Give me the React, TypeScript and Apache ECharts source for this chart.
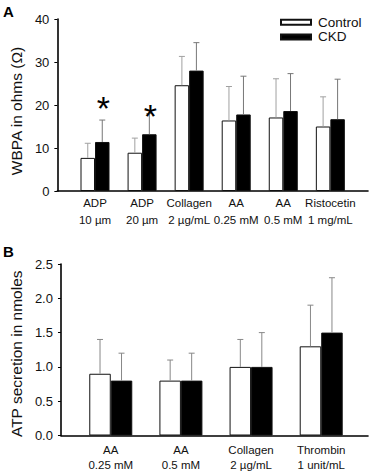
import React, { useEffect, useRef } from "react";
import * as echarts from "echarts";

// Panel A: whole-blood platelet aggregation (ohms)
const agonistsA = ["ADP", "ADP", "Collagen", "AA", "AA", "Ristocetin"];
const dosesA = ["10 µm", "20 µm", "2 µg/mL", "0.25 mM", "0.5 mM", "1 mg/mL"];
const controlA = [7.7, 8.9, 24.6, 16.4, 17.1, 15.0];
const controlASd = [3.4, 3.4, 6.7, 7.9, 9.0, 6.9];
const ckdA = [11.4, 13.2, 28.0, 17.8, 18.6, 16.7];
const ckdASd = [5.1, 4.8, 6.5, 8.9, 8.7, 9.3];
const asteriskA = [21.2, 19.4, null, null, null, null];

// Panel B: ATP secretion (nmoles)
const agonistsB = ["AA", "AA", "Collagen", "Thrombin"];
const dosesB = ["0.25 mM", "0.5 mM", "2 µg/mL", "1 unit/mL"];
const controlB = [0.9, 0.8, 1.0, 1.3];
const controlBSd = [0.5, 0.3, 0.4, 0.6];
const ckdB = [0.8, 0.8, 1.0, 1.5];
const ckdBSd = [0.4, 0.4, 0.5, 0.8];

const FONT = "Liberation Sans, Arial, sans-serif";
const BAR_A = 14.5;
const BAR_B = 21.5;

function errSeries(name: string, vals: number[], sd: number[], axis: number, offset: number, color: string) {
  return {
    type: "custom",
    name,
    xAxisIndex: axis,
    yAxisIndex: axis,
    z: 5,
    encode: { x: 0, y: 1 },
    data: vals.map((v, i) => [i, v, sd[i]]),
    renderItem: (params: any, api: any) => {
      const x = api.value(0);
      const v = api.value(1);
      const e = api.value(2);
      const p0 = api.coord([x, v]);
      const p1 = api.coord([x, v + e]);
      const cx = p0[0] + offset;
      return {
        type: "group",
        children: [
          { type: "line", shape: { x1: cx, y1: p0[1], x2: cx, y2: p1[1] }, style: { stroke: color, lineWidth: 1 } },
          { type: "line", shape: { x1: cx - 3, y1: p1[1], x2: cx + 3, y2: p1[1] }, style: { stroke: color, lineWidth: 1 } },
        ],
      };
    },
  };
}

export default function App() {
  const ref = useRef<HTMLDivElement>(null);
  useEffect(() => {
    if (!ref.current) return;
    const chart = echarts.init(ref.current, null, { renderer: "svg" });

    const xAxisBase = (min: number, max: number, agonists: string[], doses: string[], gridIndex: number, lh: number, margin: number) => ({
      type: "value",
      gridIndex,
      min,
      max,
      splitLine: { show: false },
      axisTick: { show: false },
      axisLine: { show: true, onZero: false, lineStyle: { color: "#000", width: 1.6 } },
      axisLabel: {
        customValues: agonists.map((_, i) => i),
        formatter: (v: number) => {
          const i = Math.round(v);
          return agonists[i] + "\n" + doses[i];
        },
        fontFamily: FONT,
        fontSize: 11.5,
        lineHeight: lh,
        color: "#111",
        margin,
      },
    });

    const yAxisBase = (max: number, interval: number, name: string, gridIndex: number, nameSize: number, pad: number, dec: number) => ({
      type: "value",
      gridIndex,
      min: 0,
      max,
      interval,
      name,
      nameLocation: "middle",
      nameGap: 31,
      nameTextStyle: { fontFamily: FONT, fontSize: nameSize, color: "#111", padding: [0, pad, 0, 0] },
      splitLine: { show: false },
      axisLine: { show: true, onZero: false, lineStyle: { color: "#000", width: 1.6 } },
      axisTick: { show: true, length: 3, lineStyle: { color: "#000" } },
      axisLabel: {
        fontFamily: FONT,
        fontSize: 13,
        color: "#111",
        margin: 8,
        formatter: (v: number) => v.toFixed(dec),
      },
    });

    const option: any = {
      animation: false,
      backgroundColor: "#fff",
      textStyle: { fontFamily: FONT },
      legend: {
        data: ["Control", "CKD"],
        orient: "vertical",
        left: 275,
        top: 10,
        itemWidth: 30,
        itemHeight: 5,
        itemGap: 0,
        icon: "rect",
        textStyle: { fontFamily: FONT, fontSize: 13.5, color: "#111", lineHeight: 14.6, padding: [0, 0, 0, 2] },
      },
      grid: [
        { left: 52, right: 2, top: 19, height: 172 },
        { left: 52, right: 2, top: 264, height: 172.7 },
      ],
      xAxis: [
        xAxisBase(-0.8, 5.8, agonistsA, dosesA, 0, 17, 3.5),
        xAxisBase(-0.71, 3.667, agonistsB, dosesB, 1, 14.5, 7.5),
      ],
      yAxis: [
        yAxisBase(40, 10, "WBPA in ohms (Ω)", 0, 15.5, 12, 0),
        yAxisBase(2.5, 0.5, "ATP secretion in nmoles", 1, 15.5, 8, 1),
      ],
      graphic: [
        { type: "text", left: 3, top: 4, style: { text: "A", fontFamily: FONT, fontSize: 15, fontWeight: "bold", fill: "#000" } },
        { type: "text", left: 3, top: 244, style: { text: "B", fontFamily: FONT, fontSize: 15, fontWeight: "bold", fill: "#000" } },
      ],
      series: [
        {
          type: "bar",
          name: "Control",
          xAxisIndex: 0,
          yAxisIndex: 0,
          barWidth: BAR_A,
          barGap: "0%",
          data: controlA.map((v, i) => [i, v]),
          itemStyle: { color: "#fff", borderColor: "#111", borderWidth: 1 },
        },
        {
          type: "bar",
          name: "CKD",
          xAxisIndex: 0,
          yAxisIndex: 0,
          barWidth: BAR_A,
          barGap: "0%",
          data: ckdA.map((v, i) => [i, v]),
          itemStyle: { color: "#000", borderColor: "#111", borderWidth: 1 },
        },
        {
          type: "bar",
          name: "Control",
          xAxisIndex: 1,
          yAxisIndex: 1,
          barWidth: BAR_B,
          barGap: "0%",
          data: controlB.map((v, i) => [i, v]),
          itemStyle: { color: "#fff", borderColor: "#111", borderWidth: 1 },
        },
        {
          type: "bar",
          name: "CKD",
          xAxisIndex: 1,
          yAxisIndex: 1,
          barWidth: BAR_B,
          barGap: "0%",
          data: ckdB.map((v, i) => [i, v]),
          itemStyle: { color: "#000", borderColor: "#111", borderWidth: 1 },
        },
        errSeries("errAc", controlA, controlASd, 0, -BAR_A / 2, "#a0a0a0"),
        errSeries("errAk", ckdA, ckdASd, 0, BAR_A / 2, "#777"),
        errSeries("errBc", controlB, controlBSd, 1, -BAR_B / 2, "#888"),
        errSeries("errBk", ckdB, ckdBSd, 1, BAR_B / 2, "#888"),
        {
          type: "custom",
          name: "sig",
          xAxisIndex: 0,
          yAxisIndex: 0,
          z: 6,
          encode: { x: 0, y: 1 },
          data: asteriskA.map((v, i) => [i, v]).filter((d) => d[1] != null),
          renderItem: (params: any, api: any) => {
            const p = api.coord([api.value(0), api.value(1)]);
            return {
              type: "text",
              x: p[0] + BAR_A / 2 + 1,
              y: p[1] + 8,
              style: { text: "*", fontFamily: FONT, fontSize: 34, fill: "#000", align: "center", verticalAlign: "middle" },
            };
          },
        },
      ],
    };
    chart.setOption(option);
    return () => chart.dispose();
  }, []);
  return <div ref={ref} style={{ position: "absolute", left: 0, top: 0, width: 370, height: 472 }} />;
}
